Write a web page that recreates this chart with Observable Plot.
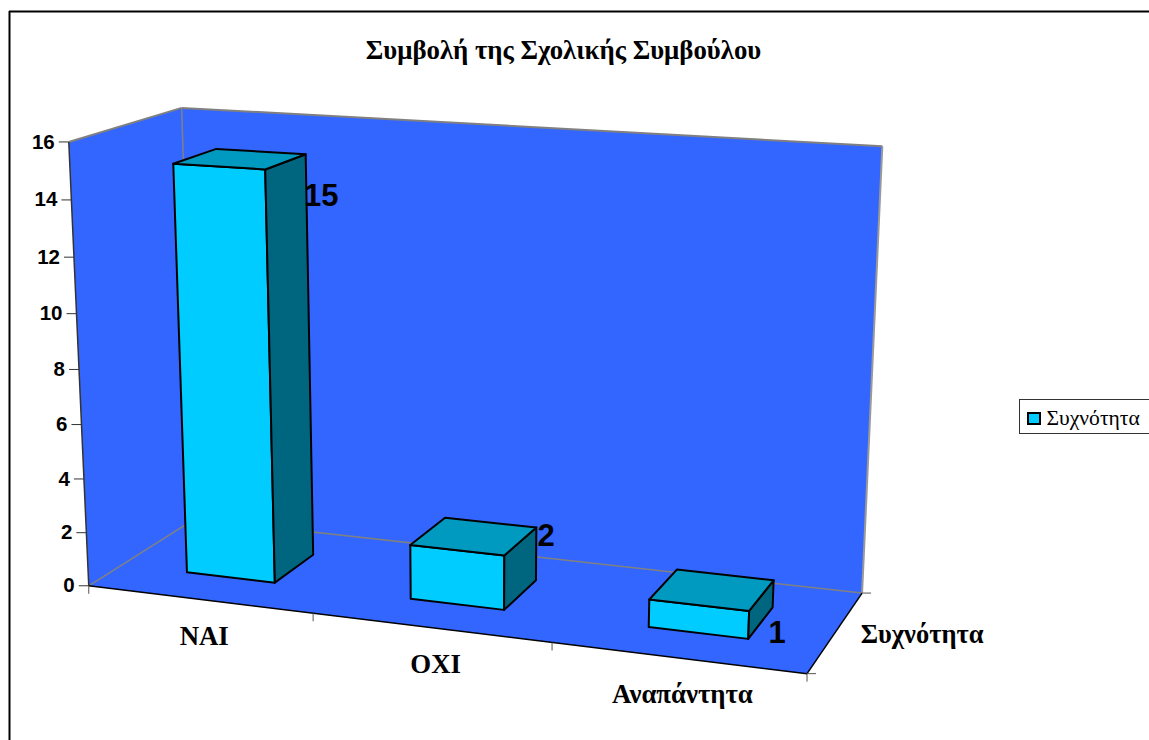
<!DOCTYPE html>
<html><head><meta charset="utf-8">
<style>html,body{margin:0;padding:0;background:#fff;overflow:hidden}svg{display:block}</style>
<script src="https://cdn.jsdelivr.net/npm/d3@7"></script>
<script src="https://cdn.jsdelivr.net/npm/@observablehq/plot@0.6"></script>
</head><body><script>
// ---- data ----
const chartTitle = "Συμβολή της Σχολικής Συμβούλου";
const categories = ["NAI", "OXI", "Αναπάντητα"];
const values = [15, 2, 1];
const seriesName = "Συχνότητα";
const valueTicks = [0, 2, 4, 6, 8, 10, 12, 14, 16];

// ---- camera: the 3D box (category, value, depth) seen through a perspective fitted to the picture ----
const vMax = 16, uMax = categories.length;
const calibration = [
  [0,0,0,89,586],[3,0,0,806,673],[0,16,0,68,141],
  [0,0,1,194,518],[3,0,1,862,592],[0,16,1,181,108],[3,16,1,882,146],
  [1,0,0,312,613],[2,0,0,551.7,642.5],[0,8,0,79,368]
];
function solve(A,b){const n=b.length;const M=A.map((r,i)=>[...r,b[i]]);
  for(let i=0;i<n;i++){let p=i;for(let k=i+1;k<n;k++)if(Math.abs(M[k][i])>Math.abs(M[p][i]))p=k;
    [M[i],M[p]]=[M[p],M[i]];
    for(let k=0;k<n;k++){if(k===i)continue;const f=M[k][i]/M[i][i];for(let j=i;j<=n;j++)M[k][j]-=f*M[i][j];}}
  return M.map((r,i)=>r[n]/r[i]);}
const cam=(()=>{const rows=[],rhs=[];
  for(const [u,v,w,x,y] of calibration){const U=u/uMax,V=v/vMax;
    rows.push([U,V,w,1,0,0,0,0,-x*U,-x*V,-x*w]);rhs.push(x);
    rows.push([0,0,0,0,U,V,w,1,-y*U,-y*V,-y*w]);rhs.push(y);}
  const n=11,A=d3.range(n).map(i=>d3.range(n).map(j=>d3.sum(rows,r=>r[i]*r[j]))),
        b=d3.range(n).map(i=>d3.sum(rows,(r,k)=>r[i]*rhs[k]));
  return solve(A,b);})();
function project(u,v,w){const U=u/uMax,V=v/vMax,d=cam[8]*U+cam[9]*V+cam[10]*w+1;
  return [(cam[0]*U+cam[1]*V+cam[2]*w+cam[3])/d,(cam[4]*U+cam[5]*V+cam[6]*w+cam[7])/d];}

// ---- faces ----
const barLo=0.3, barHi=0.7;
const face=(pts)=>pts.map(([u,v,w])=>{const [x,y]=project(u,v,w);return {x,y};});
const polygon=(pts,fill,stroke,strokeWidth)=>Plot.line(face(pts),{x:"x",y:"y",curve:"linear-closed",fill,stroke,strokeWidth,strokeLinejoin:"round"});
const edge=(a,b,stroke,strokeWidth)=>{const p=face([a,b]);return Plot.link([0],{x1:()=>p[0].x,y1:()=>p[0].y,x2:()=>p[1].x,y2:()=>p[1].y,stroke,strokeWidth});};
const cWall="#3366ff", cFront="#00ccff", cTop="#0099bf", cSide="#006680", grey="#808080", ink="#000";

const barMarks=values.flatMap((val,i)=>{
  const a=i+barLo,b=i+barHi,n=barLo,f=barHi;
  return [
    polygon([[a,0,n],[b,0,n],[b,val,n],[a,val,n]],cFront,ink,2),
    polygon([[b,0,n],[b,0,f],[b,val,f],[b,val,n]],cSide,ink,2),
    polygon([[a,val,n],[b,val,n],[b,val,f],[a,val,f]],cTop,ink,2)
  ];
});

const sans="'Liberation Sans',Arial,sans-serif", serif="'Liberation Serif','Times New Roman',serif";
const labelNudge=[[81,37],[72,0],[65,43]];
const P=(u,v,w,i)=>project(u,v,w)[i];

const chart=Plot.plot({
  width:1149,height:740,margin:0,
  x:{type:"identity",axis:null},y:{type:"identity",axis:null},
  style:{background:"#fff"},
  marks:[
    // page frame
    Plot.ruleY([11],{x1:9,x2:1149,stroke:ink,strokeWidth:2}),
    Plot.ruleX([9],{y1:11,y2:740,stroke:ink,strokeWidth:2}),
    // walls and floor
    polygon([[0,0,0],[0,vMax,0],[0,vMax,1],[0,0,1]],cWall,"none",0),
    polygon([[0,0,1],[0,vMax,1],[uMax,vMax,1],[uMax,0,1]],cWall,"none",0),
    polygon([[0,0,0],[uMax,0,0],[uMax,0,1],[0,0,1]],cWall,"none",0),
    edge([0,vMax,0],[0,vMax,1],grey,2),
    edge([0,vMax,1],[uMax,vMax,1],grey,2),
    edge([uMax,vMax,1],[uMax,0,1],"#999",2),
    edge([0,vMax,1],[0,0,1],grey,1.5),
    edge([0,0,0],[0,0,1],grey,1.5),
    edge([0,0,1],[uMax,0,1],grey,1.5),
    edge([0,vMax,0],[0,0,0],"#333",1.5),
    edge([0,0,0],[uMax,0,0],ink,1.5),
    edge([uMax,0,0],[uMax,0,1],ink,1.5),
    // value axis
    Plot.link(valueTicks,{x1:v=>P(0,v,0,0),y1:v=>P(0,v,0,1),x2:v=>P(0,v,0,0)-10,y2:v=>P(0,v,0,1),stroke:"#333",strokeWidth:1}),
    Plot.text(valueTicks,{x:v=>P(0,v,0,0)-14,y:v=>P(0,v,0,1),text:v=>String(v),textAnchor:"end",fontFamily:sans,fontWeight:"bold",fontSize:20.5,fill:ink}),
    // category axis
    Plot.link(d3.range(uMax+1),{x1:u=>P(u,0,0,0),y1:u=>P(u,0,0,1),x2:u=>P(u,0,0,0),y2:u=>P(u,0,0,1)+8,stroke:"#555",strokeWidth:1}),
    Plot.text(categories,{x:(c,i)=>P(i+.5,0,0,0)+5,y:(c,i)=>P(i+.5,0,0,1)+37,text:c=>c,fontFamily:serif,fontWeight:"bold",fontSize:26.8,fill:ink}),
    // depth axis
    Plot.link([0,1],{x1:w=>P(uMax,0,w,0),y1:w=>P(uMax,0,w,1),x2:w=>P(uMax,0,w,0)+9,y2:w=>P(uMax,0,w,1),stroke:"#555",strokeWidth:1}),
    Plot.text([seriesName],{x:()=>P(uMax,0,.5,0)+25,y:()=>P(uMax,0,.5,1)+3,text:d=>d,textAnchor:"start",fontFamily:serif,fontWeight:"bold",fontSize:26.5,fill:ink}),
    // bars
    ...barMarks,
    // data labels
    ...values.map((val,i)=>Plot.text([val],{x:()=>P(i+.5,val,.5,0),y:()=>P(i+.5,val,.5,1),dx:labelNudge[i][0],dy:labelNudge[i][1],text:d=>String(d),fontFamily:sans,fontWeight:"bold",fontSize:31,fill:ink})),
    // title
    Plot.text([chartTitle],{x:()=>563,y:()=>50,text:d=>d,fontFamily:serif,fontWeight:"bold",fontSize:26.8,fill:ink}),
    // legend
    Plot.rect([seriesName],{x1:()=>1019.5,x2:()=>1152,y1:()=>399.5,y2:()=>433.5,fill:"#fff",stroke:"#333",strokeWidth:1}),
    Plot.rect([seriesName],{x1:()=>1028,x2:()=>1040,y1:()=>413,y2:()=>424,fill:cFront,stroke:ink,strokeWidth:2}),
    Plot.text([seriesName],{x:()=>1046,y:()=>418,text:d=>d,textAnchor:"start",fontFamily:serif,fontSize:21.6,fill:ink})
  ]
});
document.body.appendChild(chart);
</script></body></html>
